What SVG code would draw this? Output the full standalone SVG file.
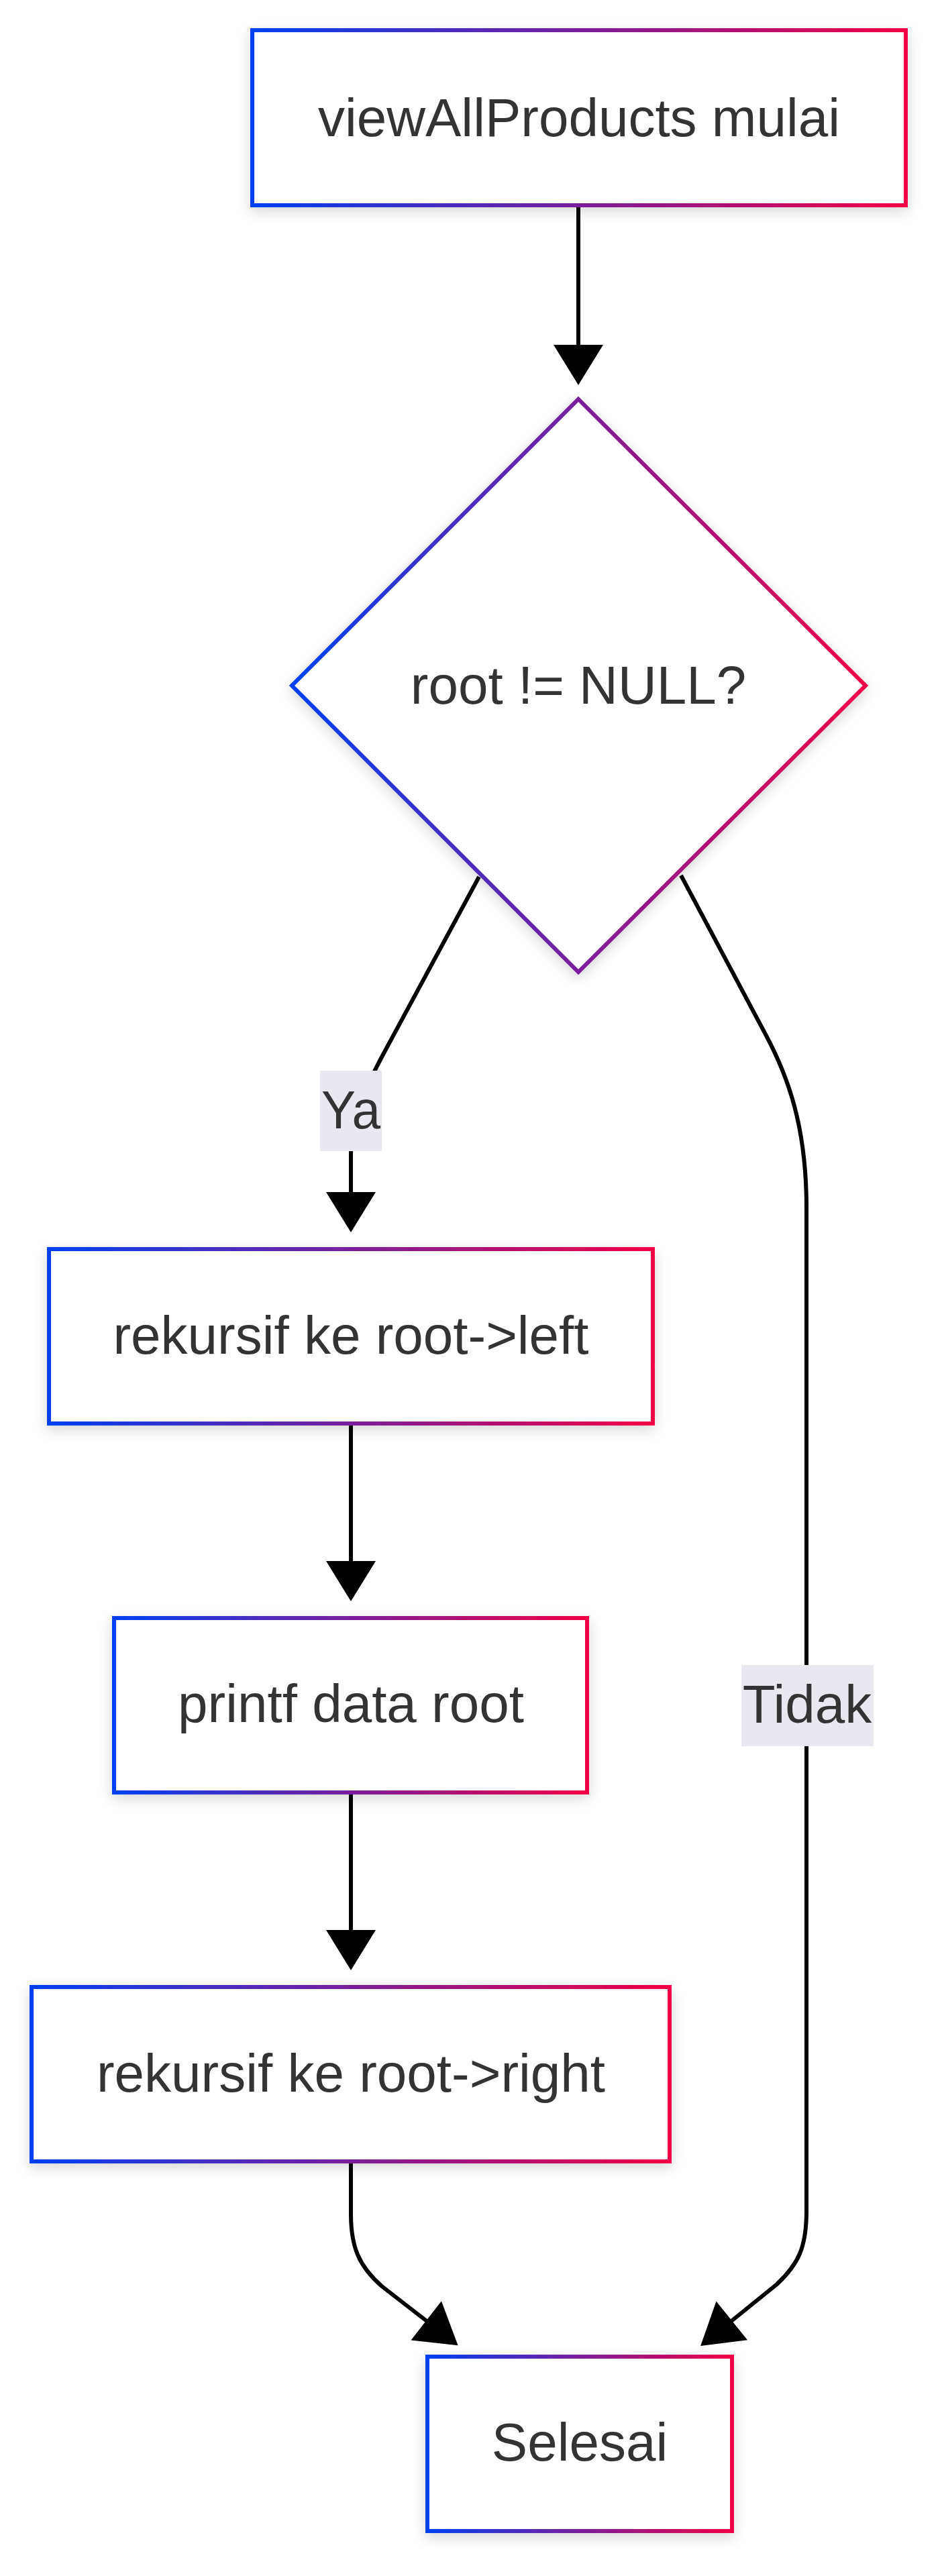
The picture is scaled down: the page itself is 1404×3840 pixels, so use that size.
<svg xmlns="http://www.w3.org/2000/svg" width="1404" height="3840" viewBox="0 0 1404 3840">
<style>
.node{fill:#ffffff;stroke:url(#grad);stroke-width:6;filter:url(#shadow)}
.lbl{font-family:"Liberation Sans",Arial,sans-serif;font-size:80px;fill:#333333;text-anchor:middle}
.edge{fill:none;stroke:#000000;stroke-width:6;marker-end:url(#arr)}
.ebox{fill:#e8e8f0}
</style>
<defs>
<linearGradient id="grad" x1="0" y1="0" x2="1" y2="0">
<stop offset="0" stop-color="#0040f2"/>
<stop offset="0.5" stop-color="#7a1f9c"/>
<stop offset="1" stop-color="#f00044"/>
</linearGradient>
<filter id="shadow" x="-10%" y="-10%" width="120%" height="130%">
<feDropShadow dx="0" dy="6" stdDeviation="10" flood-color="#000000" flood-opacity="0.16"/>
</filter>
<marker id="arr" markerUnits="userSpaceOnUse" markerWidth="60" markerHeight="74" viewBox="0 0 60 74" refX="1" refY="37" orient="auto" overflow="visible">
<path d="M0,0 L60,37 L0,74 z" fill="#000000"/>
</marker>
</defs>
<rect width="1404" height="3840" fill="#ffffff"/>
<g id="edges">
<path class="edge" d="M862,306 L862,515"/>
<path class="edge" d="M714,1307 L572,1570 Q523,1660 523,1720 L523,1778"/>
<path class="edge" d="M523,2122 L523,2328"/>
<path class="edge" d="M523,2672 L523,2878"/>
<path class="edge" d="M523,3222 L523,3300 C523,3350 535,3378 569,3408 L636,3460"/>
<path class="edge" d="M1015,1305 L1140,1540 C1175,1605 1202,1680 1202,1800 L1202,3296 C1202,3350 1190,3375 1158,3405 L1090,3460"/>
</g>
<g id="edge-label-ya">
<rect class="ebox" x="477" y="1596" width="92" height="120"/>
<text class="lbl" x="523" y="1682" textLength="88" lengthAdjust="spacingAndGlyphs">Ya</text>
</g>
<g id="edge-label-tidak">
<rect class="ebox" x="1105" y="2482" width="197" height="121"/>
<text class="lbl" x="1203" y="2568">Tidak</text>
</g>
<g id="node-start">
<rect class="node" x="376" y="45" width="974" height="261"/>
<text class="lbl" x="863" y="203">viewAllProducts mulai</text>
</g>
<g id="node-decision">
<polygon class="node" points="862,595 1290,1022 862,1449 435,1022"/>
<text class="lbl" x="862" y="1049">root != NULL?</text>
</g>
<g id="node-left">
<rect class="node" x="73" y="1862" width="900" height="260"/>
<text class="lbl" x="523" y="2018">rekursif ke root-&gt;left</text>
</g>
<g id="node-print">
<rect class="node" x="170" y="2412" width="705" height="260"/>
<text class="lbl" x="523" y="2567">printf data root</text>
</g>
<g id="node-right">
<rect class="node" x="47" y="2962" width="951" height="260"/>
<text class="lbl" x="523" y="3118">rekursif ke root-&gt;right</text>
</g>
<g id="node-end">
<rect class="node" x="637" y="3513" width="454" height="260"/>
<text class="lbl" x="864" y="3668">Selesai</text>
</g>
</svg>
